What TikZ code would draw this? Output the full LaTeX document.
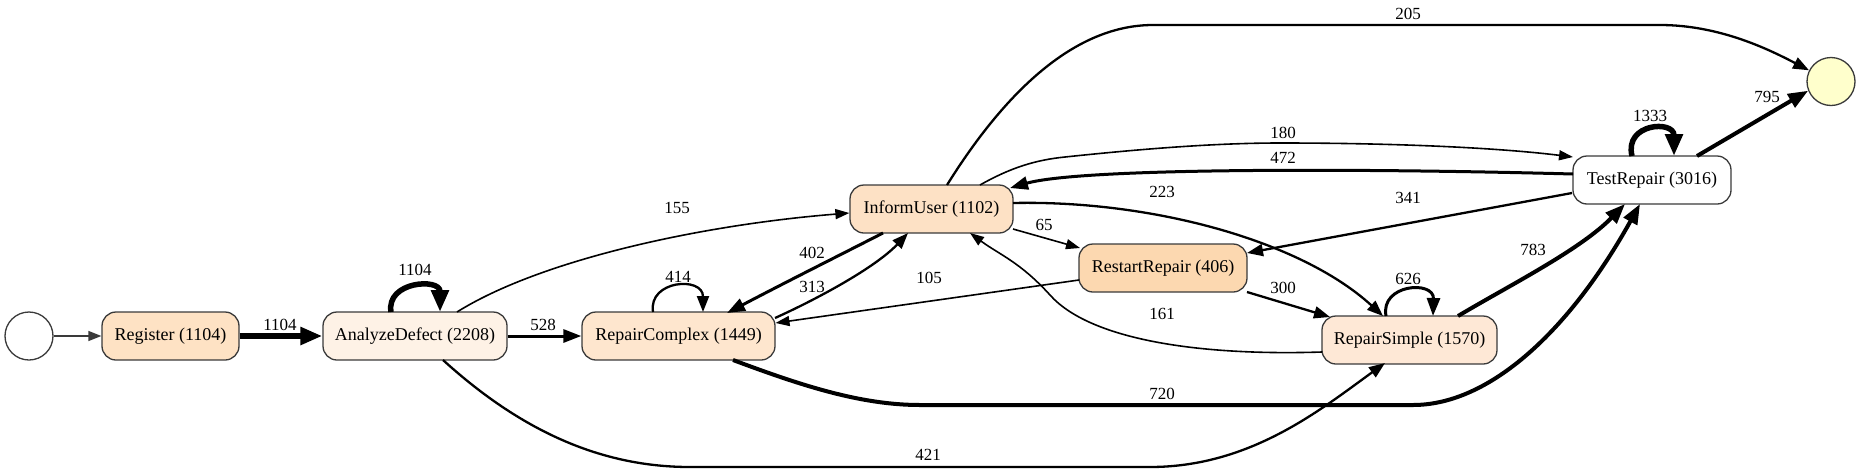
\documentclass[tikz,border=0pt]{standalone}
\usepackage{fontspec}
\setmainfont{Liberation Serif}
\newfontfamily\dfont{Liberation Serif}
\usetikzlibrary{arrows.meta,calc}
\definecolor{cReg}{HTML}{FEE2C4}
\definecolor{cAna}{HTML}{FEF2E6}
\definecolor{cRC}{HTML}{FEE6CE}
\definecolor{cIU}{HTML}{FDE1C5}
\definecolor{cRR}{HTML}{FCD8B0}
\definecolor{cRS}{HTML}{FEE8D6}
\definecolor{cEnd}{HTML}{FFFFCC}
\definecolor{cBorder}{HTML}{3A3A3A}
\begin{document}
\begin{tikzpicture}[x=1pt,y=-1pt,
  act/.style={draw=cBorder, line width=1.3pt, rounded corners=14pt, minimum height=48pt, inner sep=0pt, font=\dfont\fontsize{18}{20}\selectfont},
  ev/.style={draw=cBorder, line width=1.3pt, circle, minimum size=48pt, inner sep=0pt},
  lab/.style={font=\dfont\fontsize{17}{19}\selectfont, inner sep=0pt, anchor=center},
  w0/.style={draw=cBorder, line width=1.3pt, -{Triangle[length=13pt,width=10pt]}},
  w1/.style={line width=1.6pt, -{Triangle[length=14pt,width=10pt]}},
  w2/.style={line width=2.3pt, -{Triangle[length=16pt,width=12pt]}},
  w3/.style={line width=3pt, -{Triangle[length=18pt,width=13pt]}},
  w4/.style={line width=4pt, -{Triangle[length=20pt,width=15pt]}},
  w5/.style={line width=5.5pt, -{Triangle[length=22pt,width=17pt]}}
]
\useasboundingbox (0,0) rectangle (1860,472);

% nodes
\node[ev, fill=white] (nstart) at (29,336) {};
\node[act, fill=cReg, minimum width=137pt] (reg) at (170.5,336) {Register (1104)};
\node[act, fill=cAna, minimum width=184pt] (ana) at (415,336) {AnalyzeDefect (2208)};
\node[act, fill=cRC, minimum width=193pt] (rc) at (678.5,336) {RepairComplex (1449)};
\node[act, fill=cIU, minimum width=163pt] (iu) at (931.5,209) {InformUser (1102)};
\node[act, fill=cRR, minimum width=168pt] (rr) at (1163,268) {RestartRepair (406)};
\node[act, fill=cRS, minimum width=175pt] (rs) at (1409.5,340) {RepairSimple (1570)};
\node[act, fill=white, minimum width=158pt] (tr) at (1652,180) {TestRepair (3016)};
\node[ev, fill=cEnd] (nend) at (1831,81.5) {};

% edges
\draw[w0] (nstart.east) -- (reg.west);
\draw[w5] (reg.east) -- (ana.west);
\draw[w5] ($(ana)+(-24,-24)$) .. controls (386,281) and (440,278) .. ($(ana)+(25,-24)$);
\draw[w3] (ana.east) -- (rc.west);
\draw[w1] ($(ana)+(42,-24)$) .. controls (540,260) and (700,225) .. ($(iu.west)+(0,4)$);
\draw[w2] ($(ana)+(28,24)$) .. controls (520,430) and (600,467) .. (690,467) -- (1150,467) .. controls (1250,467) and (1320,410) .. ($(rs)+(-24.5,23)$);
\draw[w2] ($(rc)+(-25.5,-24)$) .. controls (648,280) and (703,276) .. ($(rc)+(24.5,-24)$);
\draw[w2] ($(rc)+(96.5,-18)$) .. controls (815,300) and (875,268) .. ($(iu)+(-23.5,24)$);
\draw[w3] ($(iu)+(-48.5,24)$) .. controls (840,255) and (790,280) .. ($(rc)+(48.5,-23)$);
\draw[w1] ($(rr)+(-84,12)$) -- ($(rc)+(97,-13)$);
\draw[w1] ($(iu)+(81.5,20)$) -- ($(rr)+(-83,-20)$);
\draw[w2] ($(iu)+(81.5,-6)$) .. controls (1150,200) and (1300,240) .. ($(rs)+(-26.5,-24)$);
\draw[w1] ($(rs)+(-87.5,12)$) .. controls (1200,356) and (1090,340) .. (1050,295) .. controls (1020,262) and (1000,255) .. ($(iu)+(38.5,24)$);
\draw[w2] ($(rr)+(84,24)$) -- ($(rs)+(-79.5,-23)$);
\draw[w3] ($(rs)+(-23.5,-24)$) .. controls (1380,284) and (1434,280) .. ($(rs)+(23.5,-24)$);
\draw[w4] ($(rs)+(48.5,-24)$) .. controls (1510,285) and (1580,250) .. ($(tr)+(-27,24)$);
\draw[w4] ($(rc)+(54.5,24)$) .. controls (800,385) and (860,405) .. (920,405) -- (1413,405) .. controls (1490,405) and (1570,330) .. ($(tr)+(-12,24)$);
\draw[w3] ($(tr)+(-79,-6)$) .. controls (1350,168) and (1080,168) .. ($(iu)+(78.5,-21)$);
\draw[w1] ($(iu)+(48.5,-24)$) .. controls (1010,168) and (1035,160) .. (1065,157) .. controls (1150,148) and (1220,143) .. (1280,143) .. controls (1400,143) and (1500,148) .. ($(tr)+(-79,-23)$);
\draw[w2] ($(tr)+(-80,13)$) -- ($(rr)+(84,-15)$);
\draw[w5] ($(tr)+(-20,-24)$) .. controls (1624,123) and (1674,120) .. ($(tr)+(22,-24)$);
\draw[w4] ($(tr)+(45,-24)$) -- (nend.202);
\draw[w2] ($(iu)+(15.5,-24)$) .. controls (1000,100) and (1070,25) .. (1153,25) -- (1660,25) .. controls (1720,25) and (1770,50) .. (nend.153);

% labels
\node[lab] (l1104a) at (280,325) {1104};
\node[lab] (l1104b) at (415,270) {1104};
\node[lab] (l528) at (543,325) {528};
\node[lab] (l155) at (677,208) {155};
\node[lab] (l421) at (928,455) {421};
\node[lab] (l414) at (678,277) {414};
\node[lab] (l402) at (812,253) {402};
\node[lab] (l313) at (812,287) {313};
\node[lab] (l105) at (929,278) {105};
\node[lab] (l65) at (1044,225) {65};
\node[lab] (l223) at (1162,192) {223};
\node[lab] (l161) at (1162,314) {161};
\node[lab] (l300) at (1283,288) {300};
\node[lab] (l626) at (1408,279) {626};
\node[lab] (l783) at (1533,250) {783};
\node[lab] (l720) at (1162,394) {720};
\node[lab] (l472) at (1283,158) {472};
\node[lab] (l180) at (1283,133) {180};
\node[lab] (l341) at (1408,198) {341};
\node[lab] (l1333) at (1650,116) {1333};
\node[lab] (l795) at (1767,97) {795};
\node[lab] (l205) at (1408,14) {205};
\end{tikzpicture}
\end{document}
